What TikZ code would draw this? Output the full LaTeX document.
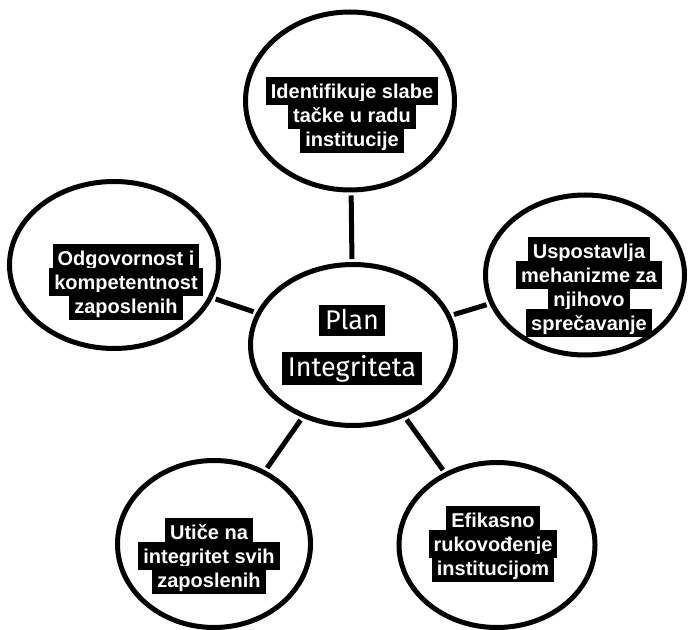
\documentclass[tikz,border=0pt]{standalone}
\usepackage{fontspec}
\setmainfont{Liberation Sans}
\newfontfamily\planfont{Fira Sans}
\usetikzlibrary{shapes.geometric}
\newcommand{\hlbox}[1]{{\setlength{\fboxsep}{1pt}\colorbox{black}{\vrule height 0.98em depth 0.2em width 0pt\kern1.5pt#1\kern1.5pt}}}
\newcommand{\planbox}[1]{{\setlength{\fboxsep}{1.5pt}\colorbox{black}{\vrule height 0.82em depth 0.12em width 0pt\kern1.5pt#1\kern1.5pt}}}
\tikzset{
    bubble/.style={ellipse, draw=black, line width=2.5pt, fill=white, inner sep=0pt},
    bubbletext/.style={align=center, text=white, inner sep=0pt,
            font=\bfseries\fontsize{10}{12}\selectfont},
    plantext/.style={align=center, text=white, inner sep=0pt,
            font=\planfont\fontsize{13.5}{23.5}\selectfont},
    link/.style={line width=2.5pt, shorten <=1.5pt, shorten >=1.5pt},
}

\begin{document}
\lineskiplimit=-20pt
\begin{tikzpicture}[x=0.5pt, y=-0.5pt]
        \useasboundingbox (0, 0) rectangle (689, 630);
        %draw circles
        \node[bubble, minimum width=104.5pt, minimum height=89pt] (idt) at (350, 101) {};
        \node[bubble, minimum width=102.5pt, minimum height=80.5pt] (ctr) at (353, 345) {};
        \node[bubble, minimum width=104.5pt, minimum height=83.5pt] (odg) at (114, 265) {};
        \node[bubble, minimum width=99.5pt, minimum height=80pt] (usp) at (585, 275) {};
        \node[bubble, minimum width=96.5pt, minimum height=83.5pt] (uti) at (214, 544) {};
        \node[bubble, minimum width=98pt, minimum height=82.5pt] (efi) at (497, 545) {};
        %draw links
        \foreach \outer in {idt, odg, usp, uti, efi}
            \draw[link] (ctr) -- (\outer);
        %draw texts
        \node[plantext] (ctr-t) at (352, 345) {\planbox{Plan}\\\planbox{Integriteta}};
        \node[bubbletext] (idt-t) at (352, 115) {\hlbox{Identifikuje slabe}\\\hlbox{tačke u radu}\\\hlbox{institucije}};
        \node[bubbletext] (odg-t) at (126, 282) {\hlbox{Odgovornost i}\\\hlbox{kompetentnost}\\\hlbox{zaposlenih}};
        \node[bubbletext] (usp-t) at (589, 287) {\hlbox{Uspostavlja}\\\hlbox{mehanizme za}\\\hlbox{njihovo}\\\hlbox{sprečavanje}};
        \node[bubbletext] (uti-t) at (209, 556) {\hlbox{Utiče na}\\\hlbox{integritet svih}\\\hlbox{zaposlenih}};
        \node[bubbletext] (efi-t) at (493, 544) {\hlbox{Efikasno}\\\hlbox{rukovođenje}\\\hlbox{institucijom}};
    \end{tikzpicture}
\end{document}
